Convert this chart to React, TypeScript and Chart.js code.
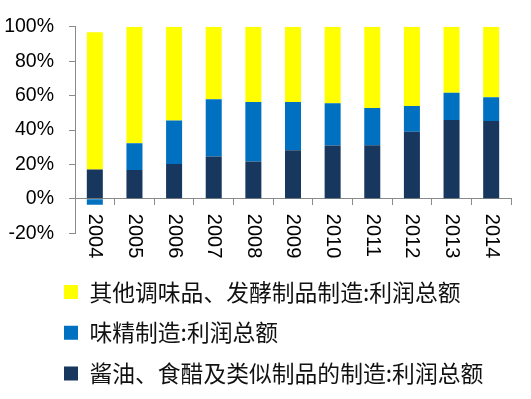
import React, { useEffect, useRef } from "react";
import { Chart, registerables } from "chart.js";

Chart.register(...registerables);

const years = ["2004", "2005", "2006", "2007", "2008", "2009", "2010", "2011", "2012", "2013", "2014"];
const soySauceVinegar = [17.0, 16.8, 20.2, 24.6, 21.7, 28.2, 31.0, 31.2, 39.0, 45.8, 45.2];
const msgMaking = [-3.4, 15.5, 25.3, 33.3, 34.6, 28.0, 24.6, 21.6, 14.9, 15.9, 13.8];
const otherSeasoning = [79.8, 67.7, 54.5, 42.1, 43.7, 43.8, 44.4, 47.2, 46.1, 38.3, 41.0];
const seriesNames = [
  "酱油、食醋及类似制品的制造:利润总额",
  "味精制造:利润总额",
  "其他调味品、发酵制品制造:利润总额",
];
const yMin = -20;
const yMax = 100;
const yStep = 20;

const AXIS = "#8a8a8a";

const xLabelPlugin = {
  id: "xLabelsRotated",
  afterDraw(chart: any) {
    const xs = chart.scales.x;
    const ys = chart.scales.y;
    const ctx = chart.ctx;
    const y0 = ys.getPixelForValue(0);
    ctx.save();
    ctx.font = '20px "Liberation Sans", Arial, sans-serif';
    ctx.fillStyle = "#000";
    ctx.textAlign = "left";
    ctx.textBaseline = "middle";
    years.forEach((lab, i) => {
      const px = xs.getPixelForValue(i);
      ctx.save();
      ctx.translate(px, y0 + 15);
      ctx.rotate(Math.PI / 2);
      ctx.fillText(lab, 0, 0);
      ctx.restore();
    });
    ctx.restore();
  },
};

const legendShiftPlugin = {
  id: "legendShift",
  afterLayout(chart: any) {
    const l = chart.legend;
    if (l) {
      l.left += 41;
      l.right += 41;
    }
  },
};

export default function App() {
  const ref = useRef<HTMLCanvasElement | null>(null);
  useEffect(() => {
    if (!ref.current) return;
    const chart = new Chart(ref.current, {
      type: "bar",
      data: {
        labels: years,
        datasets: [
          { label: seriesNames[0], data: soySauceVinegar, backgroundColor: "#17375E" },
          { label: seriesNames[1], data: msgMaking, backgroundColor: "#0070C0" },
          { label: seriesNames[2], data: otherSeasoning, backgroundColor: "#FFFF00" },
        ],
      },
      options: {
        animation: false,
        responsive: true,
        maintainAspectRatio: false,
        layout: { padding: { left: 5, top: 22, right: 20, bottom: 4 } },
        datasets: { bar: { categoryPercentage: 1, barPercentage: 0.404 } },
        scales: {
          x: {
            stacked: true,
            position: { y: 0 } as any,
            z: 1,
            offset: true,
            grid: {
              display: true,
              drawOnChartArea: false,
              drawTicks: true,
              tickLength: 6,
              color: AXIS,
              offset: true,
            },
            border: { display: true, color: AXIS, width: 1 },
            ticks: { display: false },
          },
          y: {
            stacked: true,
            min: yMin,
            max: yMax,
            afterFit: (s: any) => {
              s.width = 70;
            },
            grid: {
              drawOnChartArea: false,
              drawTicks: true,
              tickLength: 6,
              color: AXIS,
            },
            border: { display: true, color: AXIS, width: 1 },
            ticks: {
              stepSize: yStep,
              padding: 15,
              color: "#000",
              font: { family: '"Liberation Sans", Arial, sans-serif', size: 19.5 },
              callback: (v: any) => `${v}%`,
            },
          },
        },
        plugins: {
          tooltip: { enabled: false },
          legend: {
            display: true,
            position: "bottom",
            align: "start",
            reverse: true,
            title: { display: true, text: "", padding: { top: 17.3, bottom: 0 }, font: { size: 10 } },
            labels: {
              boxWidth: 14,
              boxHeight: 14,
              padding: 18,
              color: "#111",
              font: { family: '"Noto Sans CJK SC", sans-serif', size: 22.8 },
            },
          },
        },
      },
      plugins: [xLabelPlugin, legendShiftPlugin],
    });
    return () => chart.destroy();
  }, []);
  return (
    <div style={{ position: "fixed", left: 0, top: 0, width: 531, height: 399 }}>
      <canvas ref={ref} />
    </div>
  );
}
